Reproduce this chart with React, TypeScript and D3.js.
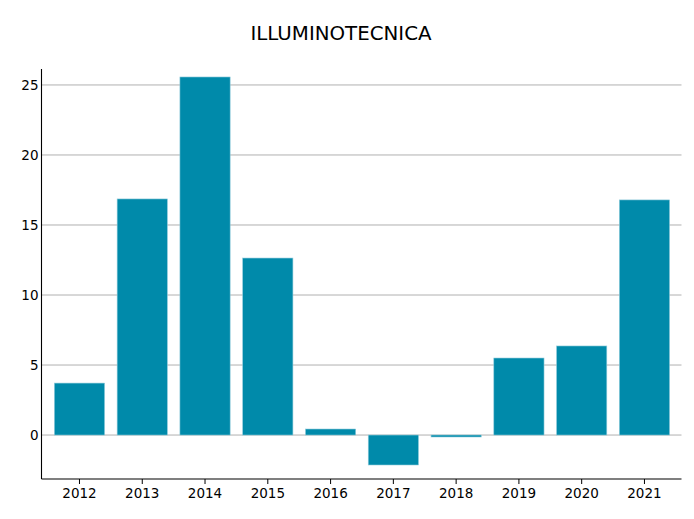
import React from "react";
import * as d3 from "d3";

const years = ["2012","2013","2014","2015","2016","2017","2018","2019","2020","2021"];
const values = [3.71, 16.86, 25.57, 12.64, 0.43, -2.14, -0.14, 5.5, 6.36, 16.79];
const yTicks = [0, 5, 10, 15, 20, 25];
const title = "ILLUMINOTECNICA";

const W = 694, H = 519;
const left = 41.5, right = 681.5, top = 69, bottom = 479;

export default function App() {
  const x = d3.scaleLinear().domain([-0.605, 9.59]).range([left, right]);
  const y = d3.scaleLinear().domain([-3.14, 26.14]).range([bottom, top]);
  const bw = x(0.4) - x(-0.4);
  const font = "'DejaVu Sans', sans-serif";
  return (
    <svg width={W} height={H} style={{ position: "absolute", left: 0, top: 0 }} fontFamily={font}>
      <rect width={W} height={H} fill="#fff" />
      <text x={341} y={40} textAnchor="middle" fontSize={19.8} fill="#000">{title}</text>
      {yTicks.map(t => (
        <g key={t}>
          <line x1={left} x2={right} y1={y(t)} y2={y(t)} stroke="#b0b0b0" strokeWidth={1} />
          <text x={38.5} y={y(t)} dy="0.36em" textAnchor="end" fontSize={13.5} fill="#000">{t}</text>
        </g>
      ))}
      {values.map((v, i) => (
        <rect key={years[i]} x={x(i) - bw / 2} width={bw}
          y={y(Math.max(0, v))} height={Math.abs(y(v) - y(0))}
          fill="#008aaa" stroke="#8fcbdb" strokeWidth={0.6} />
      ))}
      {years.map((yr, i) => (
        <g key={yr}>
          <line x1={x(i)} x2={x(i)} y1={bottom} y2={bottom + 5} stroke="#000" strokeWidth={1} />
          <text x={x(i)} y={bottom + 19} textAnchor="middle" fontSize={13.5} fill="#000">{yr}</text>
        </g>
      ))}
      <line x1={left} x2={left} y1={top} y2={bottom} stroke="#000" strokeWidth={1.1} />
      <line x1={left} x2={right} y1={bottom} y2={bottom} stroke="#000" strokeWidth={1.1} />
    </svg>
  );
}
